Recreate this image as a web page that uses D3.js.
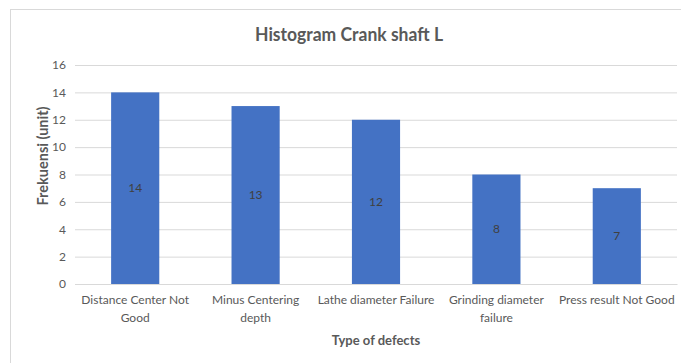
<!DOCTYPE html>
<html>
<head>
<meta charset="utf-8">
<script src="https://cdn.jsdelivr.net/npm/d3@7"></script>
<style>
  html, body { margin: 0; padding: 0; background: #fff; }
  svg { display: block; }
  text { font-family: "Lato", "Open Sans", sans-serif; }
</style>
</head>
<body>
<svg id="chart" width="681" height="363"></svg>
<script>
// Defect categories (lines of each wrapped label) and their counts
const categories = [
  "Distance Center Not Good",
  "Minus Centering depth",
  "Lathe diameter Failure",
  "Grinding diameter failure",
  "Press result Not Good"
];
const categoryLines = [
  ["Distance Center Not", "Good"],
  ["Minus Centering", "depth"],
  ["Lathe diameter Failure"],
  ["Grinding diameter", "failure"],
  ["Press result Not Good"]
];
const frequencies = [14, 13, 12, 8, 7];
const yTicks = [0, 2, 4, 6, 8, 10, 12, 14, 16];

const title = "Histogram Crank shaft L";
const xTitle = "Type of defects";
const yTitle = "Frekuensi (unit)";

const svg = d3.select("#chart");
const W = 681, H = 363;
const margin = { top: 65, right: 4, bottom: 79, left: 75 };
const plotW = W - margin.left - margin.right;
const plotH = H - margin.top - margin.bottom;

// chart frame
svg.append("rect")
  .attr("x", 10.5).attr("y", 9.5)
  .attr("width", W).attr("height", H)
  .attr("fill", "#fff").attr("stroke", "#d9d9d9");

const g = svg.append("g").attr("transform", `translate(${margin.left},${margin.top})`);

const x = d3.scaleBand().domain(categories).range([0, plotW]).paddingInner(0.6).paddingOuter(0.3);
const y = d3.scaleLinear().domain([0, 16]).range([plotH, 0]);

// horizontal gridlines and y tick labels
const yAxis = d3.axisLeft(y).tickValues(yTicks).tickSize(-plotW).tickPadding(9);
const ya = g.append("g").call(yAxis);
ya.select(".domain").remove();
ya.selectAll(".tick line").attr("stroke", "#d9d9d9");
ya.selectAll(".tick text").attr("fill", "#595959").style("font-size", "12px");

// bars
g.selectAll("rect.bar")
  .data(frequencies)
  .join("rect")
  .attr("class", "bar")
  .attr("x", (d, i) => x(categories[i]))
  .attr("y", d => y(d))
  .attr("width", x.bandwidth())
  .attr("height", d => y(0) - y(d))
  .attr("fill", "#4472c4");

// value labels, centred in each bar
g.selectAll("text.val")
  .data(frequencies)
  .join("text")
  .attr("class", "val")
  .attr("x", (d, i) => x(categories[i]) + x.bandwidth() / 2)
  .attr("y", d => (y(d) + y(0)) / 2)
  .attr("dy", "0.35em")
  .attr("text-anchor", "middle")
  .attr("fill", "#404040")
  .style("font-size", "12px")
  .text(d => d);

// x axis baseline and category labels
const xAxis = d3.axisBottom(x).tickSize(0).tickFormat("");
const xa = g.append("g").attr("transform", `translate(0,${plotH})`).call(xAxis);
xa.select(".domain").attr("stroke", "#d9d9d9");

categories.forEach((c, i) => {
  const t = g.append("text")
    .attr("x", x(c) + x.bandwidth() / 2)
    .attr("y", plotH + 20)
    .attr("text-anchor", "middle")
    .attr("fill", "#595959")
    .style("font-size", "12px");
  categoryLines[i].forEach((line, k) => {
    t.append("tspan")
      .attr("x", x(c) + x.bandwidth() / 2)
      .attr("dy", k === 0 ? 0 : 18)
      .text(line);
  });
});

// titles
svg.append("text")
  .attr("x", 349).attr("y", 41)
  .attr("text-anchor", "middle")
  .attr("fill", "#595959")
  .attr("textLength", 188)
  .attr("lengthAdjust", "spacingAndGlyphs")
  .style("font-size", "18px").style("font-weight", "bold")
  .text(title);

svg.append("text")
  .attr("x", margin.left + plotW / 2).attr("y", 345)
  .attr("text-anchor", "middle")
  .attr("fill", "#595959")
  .style("font-size", "13px").style("font-weight", "bold")
  .text(xTitle);

svg.append("text")
  .attr("transform", "translate(48,156) rotate(-90)")
  .attr("text-anchor", "middle")
  .attr("fill", "#595959")
  .style("font-size", "14.5px").style("font-weight", "bold")
  .text(yTitle);
</script>
</body>
</html>
